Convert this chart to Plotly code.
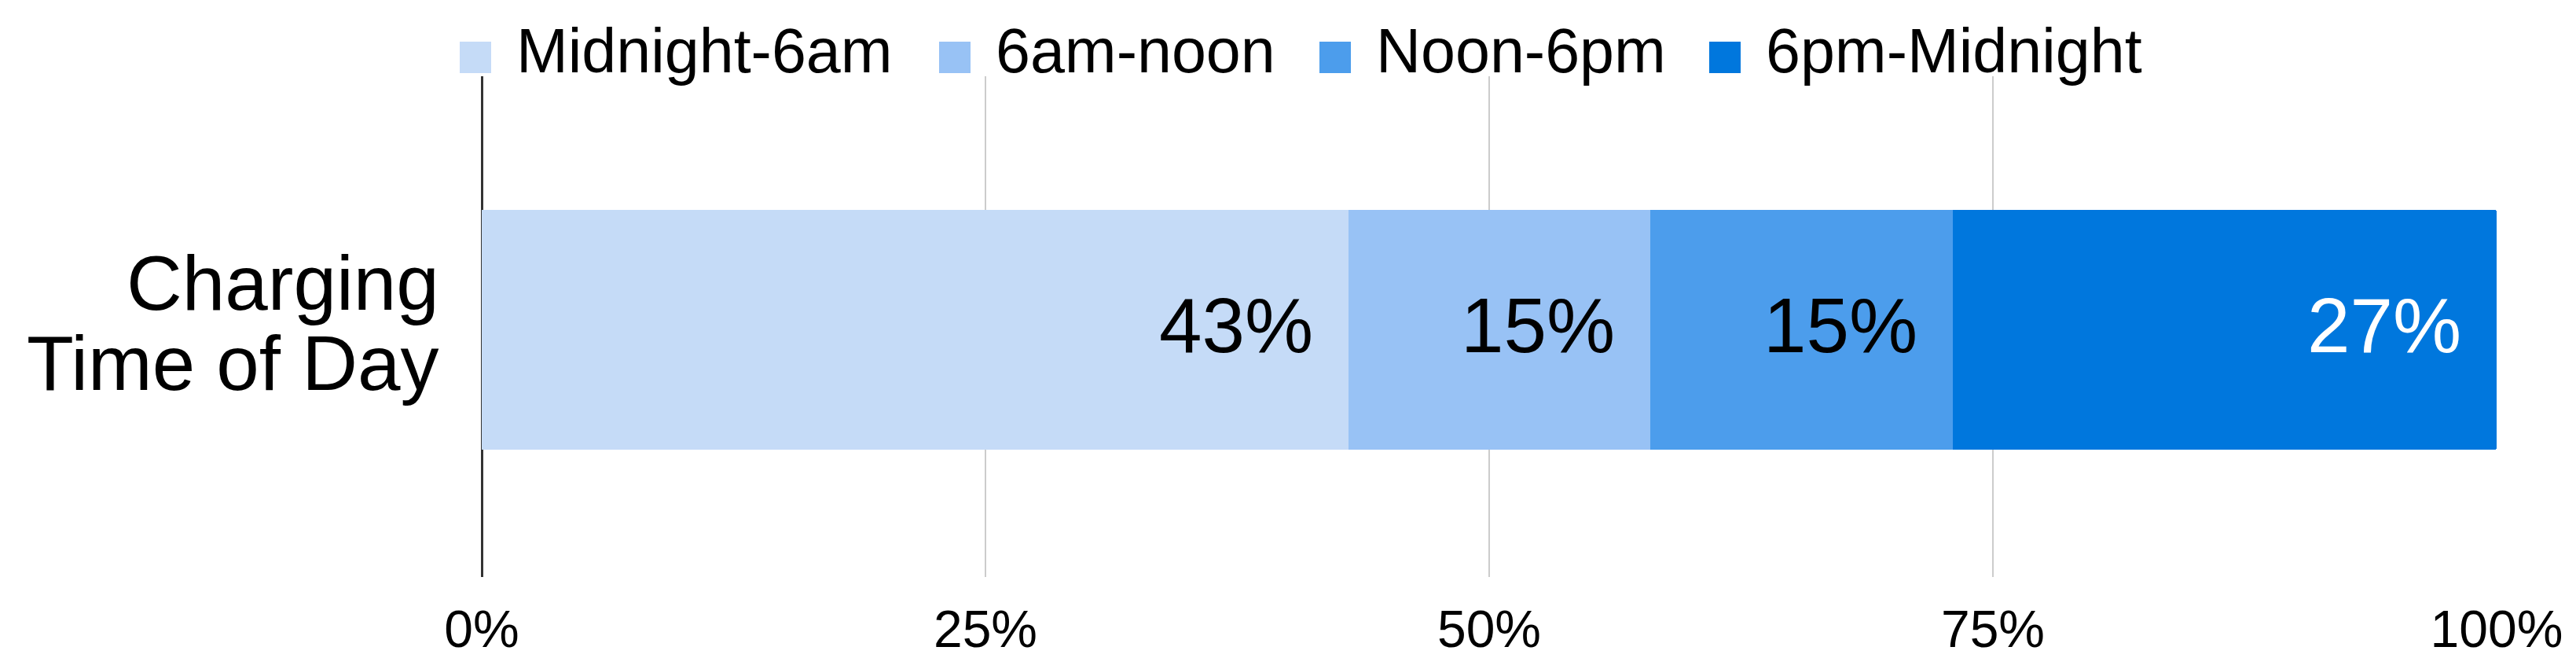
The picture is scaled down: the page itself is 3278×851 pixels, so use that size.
import plotly.graph_objects as go

# data
CATEGORIES = ["Charging<br>Time of Day"]
SERIES = ["Midnight-6am", "6am-noon", "Noon-6pm", "6pm-Midnight"]
VALUES = [43, 15, 15, 27]
COLORS = ["#c5dbf7", "#98c2f5", "#4c9dec", "#0077dd"]
LABEL_COLORS = ["#000000", "#000000", "#000000", "#ffffff"]
X_TICKS = [0, 25, 50, 75, 100]

FONT = "Arial, Liberation Sans, sans-serif"
W, H = 3278, 851
OFF = 8  # page body margin added by the browser
L, T = 613 - OFF, 97 - OFF
PW, PH = 2564, 637
R, B = W - L - PW, H - T - PH

# legend swatch left edges in page pixels
LEGEND_PX = [585, 1195, 1679, 2175]


def px_x(p):
    return (p - OFF - L) / PW


def px_y(p):
    return (T + PH - (p - OFF)) / PH


fig = go.Figure()
for name, val, color in zip(SERIES, VALUES, COLORS):
    fig.add_trace(go.Bar(
        x=[val], y=CATEGORIES,
        orientation="h",
        name=name,
        width=0.48,
        marker=dict(color=color, line=dict(width=0)),
        hoverinfo="x+name",
    ))

# value labels, right-aligned inside each segment
cum = 0
for val, tc in zip(VALUES, LABEL_COLORS):
    cum += val
    fig.add_annotation(
        x=cum, y=CATEGORIES[0], xref="x", yref="y",
        text=f"{val}%", showarrow=False,
        xanchor="right", yanchor="middle", xshift=-43, yshift=6,
        font=dict(family=FONT, size=98, color=tc),
    )

# category label, two tighter lines than plotly's tick text allows
for line, ys in zip(CATEGORIES[0].split("<br>"), [60, -42]):
    fig.add_annotation(
        x=0, y=CATEGORIES[0], xref="paper", yref="y",
        text=line, showarrow=False,
        xanchor="right", yanchor="middle", xshift=-52, yshift=ys,
        font=dict(family=FONT, size=98, color="#000000"),
    )

# legend drawn by hand so the swatches can be large
for name, color, lx in zip(SERIES, COLORS, LEGEND_PX):
    fig.add_shape(
        type="rect", xref="paper", yref="paper",
        x0=px_x(lx), x1=px_x(lx + 40), y0=px_y(93), y1=px_y(53),
        fillcolor=color, line=dict(width=0), layer="above",
    )
    fig.add_annotation(
        x=px_x(lx + 70), y=px_y(65), xref="paper", yref="paper",
        text=name, showarrow=False, xanchor="left", yanchor="middle",
        font=dict(family=FONT, size=79, color="#000000"),
    )

fig.update_layout(
    barmode="stack",
    barcornerradius=4,
    width=W, height=H,
    paper_bgcolor="#ffffff",
    plot_bgcolor="#ffffff",
    font=dict(family=FONT, color="#000000"),
    showlegend=False,
    margin=dict(l=L, r=R, t=T, b=B, pad=0),
    xaxis=dict(
        range=[0, 100],
        tickvals=X_TICKS,
        ticktext=[f"{v}%" for v in X_TICKS],
        showgrid=True, gridcolor="#cccccc", gridwidth=2,
        zeroline=True, zerolinecolor="#333333", zerolinewidth=3,
        showline=False, ticks="",
        ticklabelstandoff=22,
        tickfont=dict(family=FONT, size=66, color="#000000"),
    ),
    yaxis=dict(
        type="category",
        range=[-0.4937, 0.5063],
        showgrid=False, zeroline=False, showline=False, ticks="",
        showticklabels=False,
    ),
)

fig.write_html("out.html")
